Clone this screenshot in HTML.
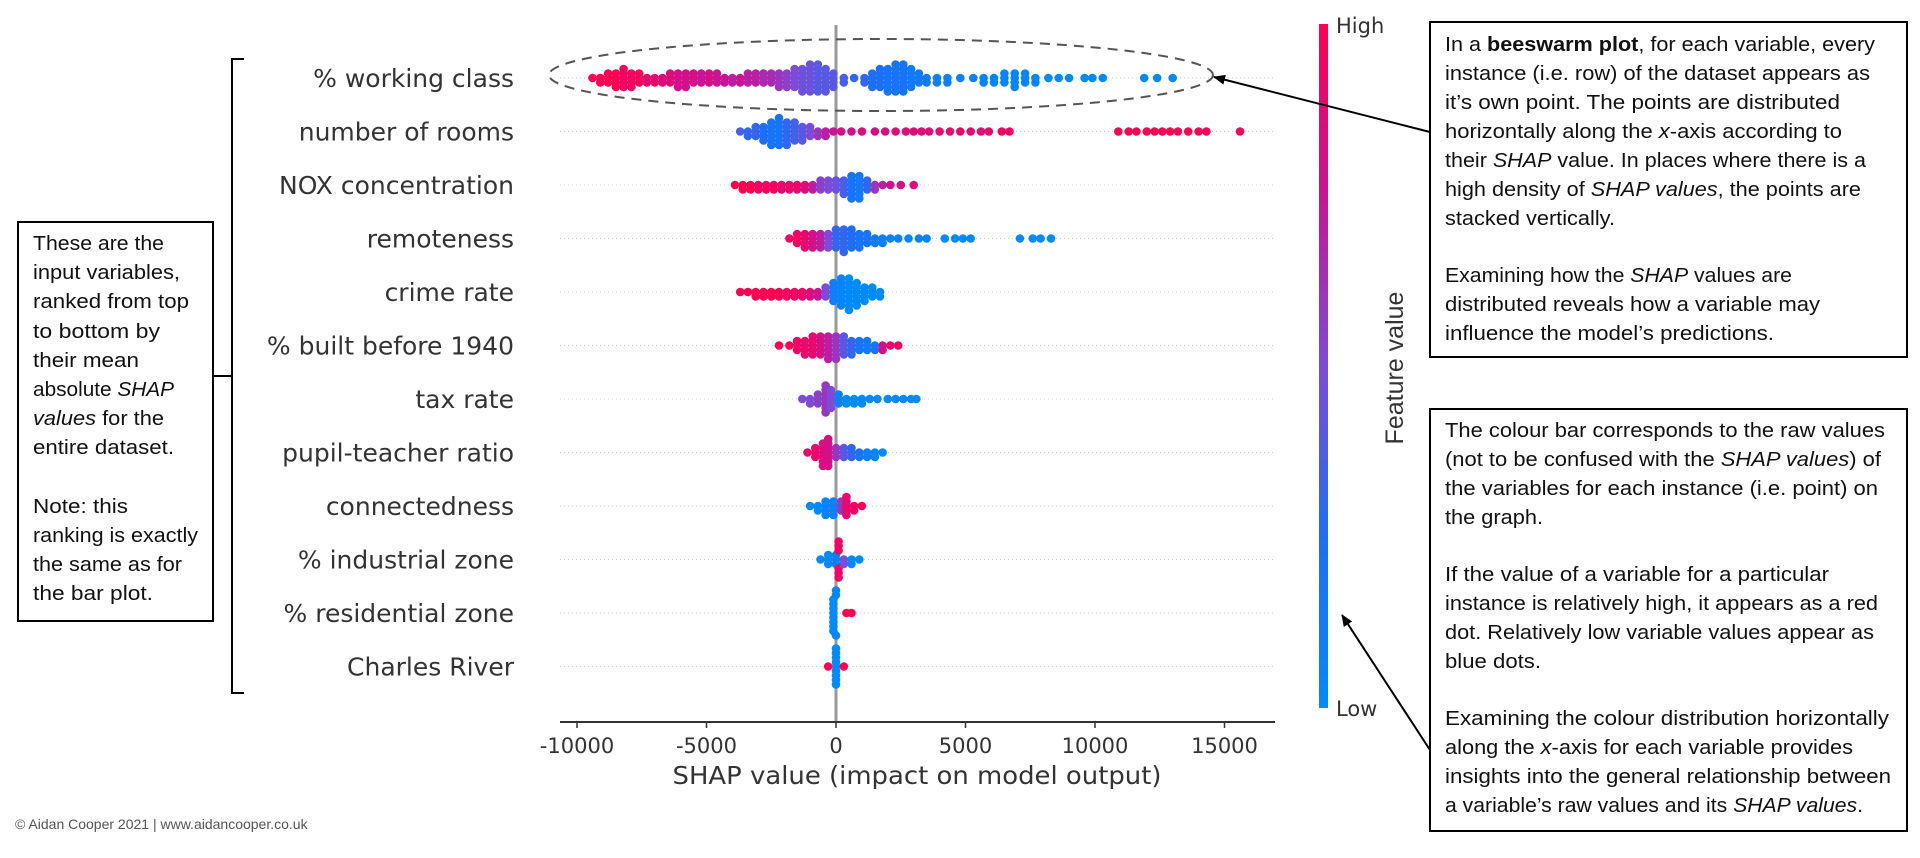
<!DOCTYPE html>
<html><head><meta charset="utf-8"><style>
html,body{margin:0;padding:0;background:#fff;}
svg{display:block;}
.lbl{font-family:"DejaVu Sans",sans-serif;font-size:25px;fill:#333;}
.tick{font-family:"DejaVu Sans",sans-serif;font-size:21px;fill:#333;}
.note{font-family:"Liberation Sans",sans-serif;font-size:20px;fill:#111;}
</style></head><body>
<svg id="chart" width="1920" height="858" viewBox="0 0 1920 858" xmlns="http://www.w3.org/2000/svg">
  <g id="grid"></g>
  <line x1="836" y1="25" x2="836" y2="722" stroke="#999" stroke-width="3"/>
  <g id="dots"></g>
  <g id="labels"></g>
  <g id="xaxis"></g>
  <text x="917" y="784" text-anchor="middle" class="lbl" textLength="489" lengthAdjust="spacingAndGlyphs">SHAP value (impact on model output)</text>

  <ellipse cx="881" cy="75" rx="332" ry="36" fill="none" stroke="#555" stroke-width="2" stroke-dasharray="10,7"/>

  <defs>
    <linearGradient id="cb" x1="0" y1="1" x2="0" y2="0">
      <stop offset="0" stop-color="rgb(0,139,251)"/>
      <stop offset="0.25" stop-color="rgb(30,110,245)"/>
      <stop offset="0.5" stop-color="rgb(125,75,215)"/>
      <stop offset="0.75" stop-color="rgb(200,20,150)"/>
      <stop offset="1" stop-color="rgb(255,0,82)"/>
    </linearGradient>
    <marker id="ah" markerWidth="12" markerHeight="10" refX="11" refY="5" orient="auto" markerUnits="userSpaceOnUse">
      <path d="M0,0 L12,5 L0,10 Z" fill="#000"/>
    </marker>
  </defs>
  <rect x="1319" y="24" width="9" height="684" fill="url(#cb)"/>
  <text x="1336" y="33" class="tick" fill="#333">High</text>
  <text x="1336" y="716" class="tick" fill="#333">Low</text>
  <text transform="translate(1403,368) rotate(-90)" text-anchor="middle" class="lbl" style="font-family:'Liberation Sans',sans-serif;font-size:25px">Feature value</text>

  <path d="M244,59 L232,59 L232,693 L244,693 M232,376 L213,376" fill="none" stroke="#000" stroke-width="2"/>
  <rect x="18" y="222" width="195" height="399" fill="#fff" stroke="#000" stroke-width="2"/>
  <g class="note">
    <text x="33" y="250" textLength="131" lengthAdjust="spacingAndGlyphs">These are the</text>
    <text x="33" y="279" textLength="147" lengthAdjust="spacingAndGlyphs">input variables,</text>
    <text x="33" y="308" textLength="156" lengthAdjust="spacingAndGlyphs">ranked from top</text>
    <text x="33" y="338" textLength="127" lengthAdjust="spacingAndGlyphs">to bottom by</text>
    <text x="33" y="367" textLength="106" lengthAdjust="spacingAndGlyphs">their mean</text>
    <text x="33" y="396" textLength="141" lengthAdjust="spacingAndGlyphs">absolute <tspan font-style="italic">SHAP</tspan></text>
    <text x="33" y="425" textLength="131" lengthAdjust="spacingAndGlyphs"><tspan font-style="italic">values</tspan> for the</text>
    <text x="33" y="454" textLength="141" lengthAdjust="spacingAndGlyphs">entire dataset.</text>
    <text x="33" y="513" textLength="95" lengthAdjust="spacingAndGlyphs">Note: this</text>
    <text x="33" y="542" textLength="165" lengthAdjust="spacingAndGlyphs">ranking is exactly</text>
    <text x="33" y="571" textLength="149" lengthAdjust="spacingAndGlyphs">the same as for</text>
    <text x="33" y="600" textLength="120" lengthAdjust="spacingAndGlyphs">the bar plot.</text>
  </g>

  <line x1="1430" y1="132" x2="1214" y2="77" stroke="#000" stroke-width="2" marker-end="url(#ah)"/>
  <rect x="1430" y="22" width="477" height="335" fill="#fff" stroke="#000" stroke-width="2"/>
  <g class="note">
    <text x="1445" y="51" textLength="430" lengthAdjust="spacingAndGlyphs">In a <tspan font-weight="bold">beeswarm plot</tspan>, for each variable, every</text>
    <text x="1445" y="80" textLength="425" lengthAdjust="spacingAndGlyphs">instance (i.e. row) of the dataset appears as</text>
    <text x="1445" y="109" textLength="395" lengthAdjust="spacingAndGlyphs">it’s own point. The points are distributed</text>
    <text x="1445" y="138" textLength="397" lengthAdjust="spacingAndGlyphs">horizontally along the <tspan font-style="italic">x</tspan>-axis according to</text>
    <text x="1445" y="167" textLength="421" lengthAdjust="spacingAndGlyphs">their <tspan font-style="italic">SHAP</tspan> value. In places where there is a</text>
    <text x="1445" y="196" textLength="416" lengthAdjust="spacingAndGlyphs">high density of <tspan font-style="italic">SHAP values</tspan>, the points are</text>
    <text x="1445" y="225" textLength="170" lengthAdjust="spacingAndGlyphs">stacked vertically.</text>
    <text x="1445" y="282" textLength="347" lengthAdjust="spacingAndGlyphs">Examining how the <tspan font-style="italic">SHAP</tspan> values are</text>
    <text x="1445" y="311" textLength="375" lengthAdjust="spacingAndGlyphs">distributed reveals how a variable may</text>
    <text x="1445" y="340" textLength="329" lengthAdjust="spacingAndGlyphs">influence the model’s predictions.</text>
  </g>

  <line x1="1430" y1="750" x2="1342" y2="615" stroke="#000" stroke-width="2" marker-end="url(#ah)"/>
  <rect x="1430" y="409" width="477" height="422" fill="#fff" stroke="#000" stroke-width="2"/>
  <g class="note">
    <text x="1445" y="437" textLength="440" lengthAdjust="spacingAndGlyphs">The colour bar corresponds to the raw values</text>
    <text x="1445" y="466" textLength="436" lengthAdjust="spacingAndGlyphs">(not to be confused with the <tspan font-style="italic">SHAP values</tspan>) of</text>
    <text x="1445" y="495" textLength="433" lengthAdjust="spacingAndGlyphs">the variables for each instance (i.e. point) on</text>
    <text x="1445" y="524" textLength="98" lengthAdjust="spacingAndGlyphs">the graph.</text>
    <text x="1445" y="581" textLength="384" lengthAdjust="spacingAndGlyphs">If the value of a variable for a particular</text>
    <text x="1445" y="610" textLength="433" lengthAdjust="spacingAndGlyphs">instance is relatively high, it appears as a red</text>
    <text x="1445" y="639" textLength="429" lengthAdjust="spacingAndGlyphs">dot. Relatively low variable values appear as</text>
    <text x="1445" y="668" textLength="96" lengthAdjust="spacingAndGlyphs">blue dots.</text>
    <text x="1445" y="725" textLength="444" lengthAdjust="spacingAndGlyphs">Examining the colour distribution horizontally</text>
    <text x="1445" y="754" textLength="408" lengthAdjust="spacingAndGlyphs">along the <tspan font-style="italic">x</tspan>-axis for each variable provides</text>
    <text x="1445" y="783" textLength="446" lengthAdjust="spacingAndGlyphs">insights into the general relationship between</text>
    <text x="1445" y="812" textLength="418" lengthAdjust="spacingAndGlyphs">a variable’s raw values and its <tspan font-style="italic">SHAP values</tspan>.</text>
  </g>

  <text x="15" y="829" style="font-family:'Liberation Sans',sans-serif;font-size:14px" fill="#555">© Aidan Cooper 2021 | www.aidancooper.co.uk</text>
</svg>
<script>
const features = ["% working class","number of rooms","NOX concentration","remoteness","crime rate","% built before 1940","tax rate","pupil-teacher ratio","connectedness","% industrial zone","% residential zone","Charles River"];
const xTicks = [-10000,-5000,0,5000,10000,15000];
const xTickLabels = ["-10000","-5000","0","5000","10000","15000"];
// each entry: [SHAP value (thousands), feature value 0-1, number of instances]
const rowWorkingClass = [[-9.4,1,1],[-9.1,1,2],[-8.8,1,3],[-8.5,1,4],[-8.2,.95,5],[-7.9,.95,4],[-7.6,.95,3],[-7.3,.9,2],[-7.0,.9,2],[-6.7,.85,2],[-6.4,.85,3],[-6.1,.8,4],[-5.8,.8,4],[-5.5,.8,3],[-5.2,.75,3],[-4.9,.8,3],[-4.6,.75,3],[-4.3,.75,2],[-4.0,.7,2],[-3.7,.75,2],[-3.4,.7,3],[-3.1,.7,3],[-2.8,.65,3],[-2.5,.65,3],[-2.2,.6,4],[-1.9,.55,4],[-1.6,.5,5],[-1.3,.45,6],[-1.0,.45,7],[-0.7,.4,7],[-0.4,.4,6],[-0.1,.4,4],[0.3,.35,2],[0.7,.3,1],[1.1,.3,2],[1.4,.25,4],[1.7,.25,5],[2.0,.2,6],[2.3,.2,7],[2.6,.2,7],[2.9,.15,5],[3.2,.15,3],[3.5,.15,2],[3.9,.1,2],[4.3,.1,2],[4.8,.1,1],[5.3,.1,1],[5.7,.05,2],[6.1,.05,2],[6.5,.05,3],[6.9,.05,4],[7.3,.05,3],[7.7,.05,2],[8.2,0,1],[8.6,0,1],[9.0,0,1],[9.6,0,1],[9.9,0,1],[10.3,0,1],[11.9,0,1],[12.4,0,1],[13.0,0,1]];
const rowRooms = [[-3.7,.35,1],[-3.4,.3,2],[-3.1,.3,3],[-2.8,.25,4],[-2.5,.2,6],[-2.2,.2,7],[-1.9,.3,6],[-1.6,.35,5],[-1.3,.4,4],[-1.0,.5,3],[-0.7,.6,2],[-0.4,.7,2],[-0.1,.75,1],[0.2,.8,1],[0.6,.8,1],[1.0,.85,1],[1.5,.85,1],[1.9,.8,1],[2.3,.85,1],[2.7,.85,1],[3.0,.85,1],[3.3,.85,1],[3.6,.85,1],[4.0,.9,1],[4.4,.9,1],[4.8,.9,1],[5.2,.9,1],[5.6,.9,1],[5.9,.9,1],[6.4,.95,1],[6.7,.95,1],[10.9,1,1],[11.3,1,1],[11.6,1,1],[12.0,1,1],[12.3,1,1],[12.6,1,1],[12.9,1,1],[13.2,1,1],[13.6,1,1],[14.0,1,1],[14.3,1,1],[15.6,1,1]];
const rowNOX = [[-3.9,1,1],[-3.6,1,2],[-3.3,1,2],[-3.0,.95,2],[-2.7,.95,2],[-2.4,.95,2],[-2.1,.9,2],[-1.8,.9,2],[-1.5,.9,2],[-1.2,.85,2],[-0.9,.7,2],[-0.6,.55,3],[-0.3,.5,3],[0.0,.45,3],[0.3,.35,4],[0.6,.2,6],[0.9,.15,6],[1.2,.3,3],[1.5,.6,2],[1.8,.7,1],[2.1,.75,1],[2.5,.8,1],[3.0,.85,1]];
const rowRemoteness = [[-1.8,.95,1],[-1.5,.95,3],[-1.2,.9,4],[-0.9,.8,4],[-0.6,.7,4],[-0.3,.5,4],[0.0,.3,5],[0.3,.3,6],[0.6,.25,5],[0.9,.2,4],[1.2,.2,3],[1.5,.15,2],[1.8,.1,2],[2.1,.1,1],[2.4,.1,1],[2.8,.05,1],[3.2,.05,1],[3.5,.05,1],[4.2,0,1],[4.6,0,1],[4.9,0,1],[5.2,0,1],[7.1,0,1],[7.6,0,1],[7.9,0,1],[8.3,0,1]];
const rowCrime = [[-3.7,1,1],[-3.4,1,1],[-3.1,1,2],[-2.8,1,2],[-2.5,1,2],[-2.2,1,2],[-1.9,.95,2],[-1.6,.95,2],[-1.3,.9,2],[-1.0,.85,2],[-0.7,.75,2],[-0.4,.5,3],[-0.1,.1,5],[0.2,.05,7],[0.5,0,8],[0.8,0,6],[1.1,0,4],[1.4,0,3],[1.7,0,2]];
const rowBuilt1940 = [[-2.2,1,1],[-1.8,1,1],[-1.5,.95,3],[-1.2,.9,4],[-0.9,.9,5],[-0.6,.8,5],[-0.3,.7,6],[0.0,.6,6],[0.3,.4,5],[0.6,.3,4],[0.9,.2,3],[1.2,.15,3],[1.5,.2,2],[1.8,.8,2],[2.1,.9,1],[2.4,.95,1]];
const rowTax = [[-1.3,.5,1],[-1.0,.5,2],[-0.7,.55,3],[-0.4,.6,7],[-0.2,.5,5],[0.1,.1,3],[0.4,0,2],[0.7,0,2],[1.0,0,2],[1.3,0,1],[1.6,0,1],[2.0,0,1],[2.3,0,1],[2.6,0,1],[2.9,0,1],[3.1,0,1]];
const rowPupil = [[-1.1,.9,1],[-0.8,.9,3],[-0.5,.85,6],[-0.3,.8,7],[0.0,.6,3],[0.3,.4,3],[0.6,.3,3],[0.9,.2,2],[1.2,.1,2],[1.5,.05,2],[1.8,0,1]];
const rowConnected = [[-1.0,0,1],[-0.7,0,2],[-0.4,.05,4],[-0.1,.1,4],[0.2,.6,3],[0.4,.9,5],[0.7,.95,2],[1.0,1,1]];
const rowIndustrial = [[-0.6,0,1],[-0.3,0,3],[0.0,.1,3],[0.1,.95,6],[0.3,.5,2],[0.6,0,2],[0.9,0,1]];
const rowResidential = [[-0.1,0,8],[0.0,.05,3],[0.4,1,1],[0.6,1,1]];
const rowCharles = [[0.0,0,9],[-0.3,1,1],[0.3,1,1]];
const rows = [rowWorkingClass,rowRooms,rowNOX,rowRemoteness,rowCrime,rowBuilt1940,rowTax,rowPupil,rowConnected,rowIndustrial,rowResidential,rowCharles];

const NS = "http://www.w3.org/2000/svg";
const X0 = 836, PX_PER_UNIT = 129.5/5000, X_MIN = 560, X_MAX = 1275;
const ROW_TOP = 78, ROW_STEP = 53.5, AXIS_Y = 722;
function xScale(v){ return X0 + v*PX_PER_UNIT; }
function yRow(i){ return ROW_TOP + i*ROW_STEP; }
function colour(t){
  const st=[[0,[0,139,251]],[0.25,[30,110,245]],[0.5,[125,75,215]],[0.75,[200,20,150]],[1,[255,0,82]]];
  for(let k=0;k<st.length-1;k++){
    const a=st[k],b=st[k+1];
    if(t<=b[0]){const f=(t-a[0])/(b[0]-a[0]);return "rgb("+a[1].map((c,j)=>Math.round(c+(b[1][j]-c)*f)).join(",")+")";}
  }
  return "rgb(255,0,82)";
}
const grid=document.getElementById('grid'), labels=document.getElementById('labels'), dots=document.getElementById('dots'), xaxis=document.getElementById('xaxis');
features.forEach((f,i)=>{
  const y=yRow(i);
  const gl=document.createElementNS(NS,'line');
  
  
  gl.setAttribute('x1',X_MIN);gl.setAttribute('x2',X_MAX);gl.setAttribute('y1',y);gl.setAttribute('y2',y);
  gl.setAttribute('stroke','#ccc');gl.setAttribute('stroke-width','1');gl.setAttribute('stroke-dasharray','1,3');
  grid.appendChild(gl);
  const t=document.createElementNS(NS,'text');
  
  
  t.setAttribute('x',514);t.setAttribute('y',y+9);t.setAttribute('text-anchor','end');t.setAttribute('class','lbl');
  t.textContent=f;labels.appendChild(t);
});
const R=4.3, MD=4.2, STEP=1.5;
rows.forEach((row,i)=>{
  const pts=[];
  row.forEach(g=>{for(let n=0;n<g[2];n++)pts.push({x:xScale(g[0]*1000),c:g[1]});});
  pts.sort((a,b)=>a.x-b.x);
  const placed=[];
  pts.forEach(p=>{
    let off=0;
    for(let k=0;k<80;k++){
      const cand=(k===0)?0:((k%2===1)?1:-1)*Math.ceil(k/2)*STEP;
      let ok=true;
      for(const q of placed){const dx=p.x-q.x;if(Math.abs(dx)<MD){const dy=cand-q.y;if(dx*dx+dy*dy<MD*MD){ok=false;break;}}}
      if(ok){off=cand;break;}
    }
    placed.push({x:p.x,y:off,c:p.c});
  });
  placed.forEach(p=>{
    const c=document.createElementNS(NS,'circle');
    
    
    c.setAttribute('cx',p.x.toFixed(1));c.setAttribute('cy',(yRow(i)+p.y).toFixed(1));c.setAttribute('r',R);
    c.setAttribute('fill',colour(p.c));
    dots.appendChild(c);
  });
});
const ax=document.createElementNS(NS,'line');


ax.setAttribute('x1',X_MIN);ax.setAttribute('x2',X_MAX);ax.setAttribute('y1',AXIS_Y);ax.setAttribute('y2',AXIS_Y);
ax.setAttribute('stroke','#333');ax.setAttribute('stroke-width','2');xaxis.appendChild(ax);
xTicks.forEach((v,k)=>{
  const x=xScale(v);
  const tk=document.createElementNS(NS,'line');
  
  
  tk.setAttribute('x1',x);tk.setAttribute('x2',x);tk.setAttribute('y1',AXIS_Y);tk.setAttribute('y2',AXIS_Y+6);
  tk.setAttribute('stroke','#333');tk.setAttribute('stroke-width','1.5');xaxis.appendChild(tk);
  const tl=document.createElementNS(NS,'text');
  
  
  tl.setAttribute('x',x);tl.setAttribute('y',AXIS_Y+31);tl.setAttribute('text-anchor','middle');tl.setAttribute('class','tick');
  tl.textContent=xTickLabels[k];xaxis.appendChild(tl);
});
</script>
</body></html>
